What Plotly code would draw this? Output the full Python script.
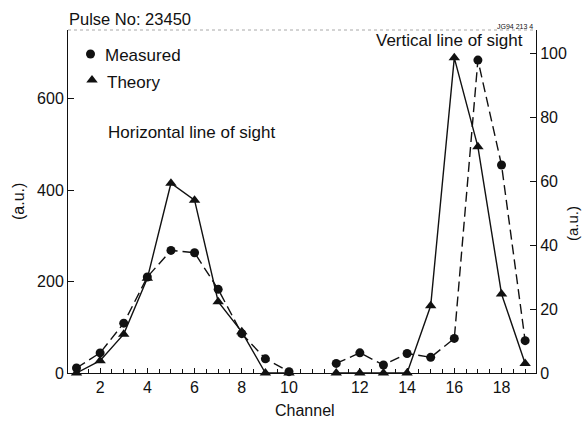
import plotly.graph_objects as go

# Horizontal line of sight (left axis)
h_channels = [1, 2, 3, 4, 5, 6, 7, 8, 9, 10]
h_measured = [11, 44, 109, 210, 268, 263, 183, 86, 31, 3]
h_theory = [0, 27, 85, 207, 415, 378, 156, 90, 0, 0]

# Vertical line of sight (right axis)
v_channels = [11, 12, 13, 14, 15, 16, 17, 18, 19]
v_measured = [3.0, 6.3, 2.5, 6.1, 4.9, 10.8, 97.8, 65, 10.1]
v_theory = [0, 0, 0, 0, 21, 98.5, 70.7, 24.7, 3]

tick_labels = [2, 4, 6, 8, 10, 12, 14, 16, 18]

# the plotted axis leaves a one-channel gap between the two sight lines
def pos(ch):
    return ch + 1 if ch > 10 else ch

hx = [pos(c) for c in h_channels]
vx = [pos(c) for c in v_channels]
tickvals = [pos(c) for c in tick_labels]

BLACK = "#111111"
FONT = "Liberation Sans, Arial, sans-serif"

W, H = 583, 421
L, R, T, B = 68, 47, 30, 48
PW, PH = W - L - R, H - T - B

def px(x):
    return (x - L) / PW

def py(y):
    return (H - B - y) / PH

fig = go.Figure()
meas_line = dict(color=BLACK, width=1.4, dash="10px,5px")
theo_line = dict(color=BLACK, width=1.4)
circ = dict(symbol="circle", size=9, color=BLACK)
tri = dict(symbol="triangle-up", size=10, color=BLACK)

fig.add_trace(go.Scatter(x=hx, y=h_measured, mode="lines+markers", line=meas_line,
                         marker=circ, cliponaxis=False))
fig.add_trace(go.Scatter(x=hx, y=h_theory, mode="lines+markers", line=theo_line,
                         marker=tri, cliponaxis=False))
fig.add_trace(go.Scatter(x=vx, y=v_measured, mode="lines+markers", line=meas_line,
                         marker=circ, cliponaxis=False, yaxis="y2"))
fig.add_trace(go.Scatter(x=vx, y=v_theory, mode="lines+markers", line=theo_line,
                         marker=tri, cliponaxis=False, yaxis="y2"))

# legend keys drawn on a helper axis spanning the plot area (0..1)
fig.add_trace(go.Scatter(x=[px(90.5)], y=[py(54)], mode="markers", marker=circ,
                         xaxis="x3", yaxis="y3", cliponaxis=False))
fig.add_trace(go.Scatter(x=[px(92)], y=[py(80)], mode="markers", marker=tri,
                         xaxis="x3", yaxis="y3", cliponaxis=False))

fig.update_layout(
    width=W, height=H,
    margin=dict(l=L, r=R, t=T, b=B, autoexpand=False),
    paper_bgcolor="white", plot_bgcolor="white",
    font=dict(family=FONT, size=16, color=BLACK),
    showlegend=False,
    xaxis=dict(range=[0.64, 20.46], tickmode="array", tickvals=tickvals,
               ticktext=[str(t) for t in tick_labels], automargin=False,
               showgrid=False, zeroline=False, showline=True, linecolor=BLACK, linewidth=1,
               ticks="inside", ticklen=5, tickcolor=BLACK, tickfont=dict(size=16),
               minor=dict(dtick=0.5, tick0=0, ticks="inside", ticklen=4, tickcolor=BLACK)),
    yaxis=dict(range=[0, 750], tickvals=[0, 200, 400, 600], showgrid=False, zeroline=False,
               automargin=False, showline=True, linecolor=BLACK, linewidth=1, ticks="inside",
               ticklen=6, tickcolor=BLACK, tickfont=dict(size=16)),
    yaxis2=dict(range=[0, 107.2], tickvals=[0, 20, 40, 60, 80, 100], overlaying="y", side="right",
                automargin=False, showgrid=False, zeroline=False, showline=True, linecolor=BLACK,
                linewidth=1, ticks="inside", ticklen=6, tickcolor=BLACK, tickfont=dict(size=16)),
    xaxis3=dict(overlaying="x", range=[0, 1], visible=False, fixedrange=True),
    yaxis3=dict(overlaying="y", range=[0, 1], visible=False, fixedrange=True),
)

# faint top border
fig.add_shape(type="line", xref="paper", yref="paper", x0=0, x1=1, y0=1, y1=1,
              line=dict(color="#a8a8a8", width=1, dash="dot"))

def label(text, x, y, size, xanchor="left", angle=0):
    fig.add_annotation(text=text, xref="paper", yref="paper", x=px(x), y=py(y),
                       xanchor=xanchor, yanchor="middle", showarrow=False, textangle=angle,
                       font=dict(size=size))

label("Pulse No: 23450", 67, 19, 16.5)
label("Measured", 103, 55, 17)
label("Theory", 105, 82, 17)
label("Horizontal line of sight", 106, 132, 17)
label("Vertical line of sight", 374, 41, 17)
label("JG94 213 4", 535, 26, 7, xanchor="right")
label("Channel", 305, 410, 16, xanchor="center")
label("(a.u.)", 18, 202, 16, xanchor="center", angle=-90)
label("(a.u.)", 572, 224, 15, xanchor="center", angle=-90)

fig.write_html("out.html", config={"displayModeBar": False},
               post_script="document.body.style.margin='0';document.body.style.padding='0';")
